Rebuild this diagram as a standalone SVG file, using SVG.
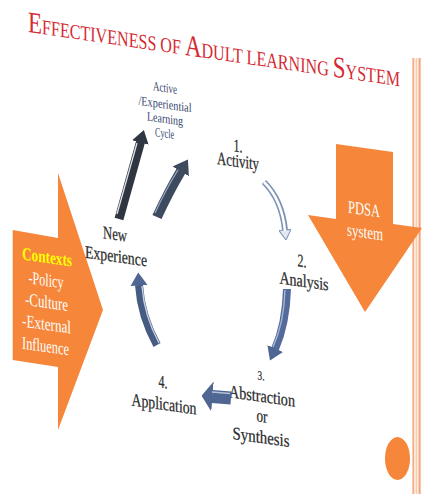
<svg xmlns="http://www.w3.org/2000/svg" width="422" height="494" viewBox="0 0 422 494">
<style>
.t{font-family:"Liberation Serif","DejaVu Serif",serif;text-anchor:middle;fill:#2b2b2b;font-size:18px;stroke:#2b2b2b;stroke-width:0.25}
.cy{font-size:13px;fill:#34466e;stroke:none}
.ti{font-family:"Liberation Serif","DejaVu Serif",serif;fill:#d42a33;font-size:21px}
.ti .b{font-size:30px}
.w{fill:#ffffff;stroke:none}
.y{fill:#ffff00;stroke:none;font-weight:bold}
.or{fill:#f5863a}
.sh{fill:none;stroke-linecap:butt}
.hl{fill:none;stroke-linecap:butt}
</style>
<defs>
<marker id="hDark" viewBox="0 0 13 17" refX="0.5" refY="8.5" markerWidth="13" markerHeight="17" markerUnits="userSpaceOnUse" orient="auto"><path d="M0,0 L13,8.5 L0,17 z" fill="#2f3541"/></marker>
<marker id="hSteel" viewBox="0 0 14 19" refX="0.5" refY="9.5" markerWidth="14" markerHeight="19" markerUnits="userSpaceOnUse" orient="auto"><path d="M0,0 L14,9.5 L0,19 z" fill="#3e4a5e"/></marker>
<marker id="hBlue" viewBox="0 0 13 17" refX="0.5" refY="8.5" markerWidth="13" markerHeight="17" markerUnits="userSpaceOnUse" orient="auto"><path d="M0,0 L13,8.5 L0,17 z" fill="#4f6592"/></marker>
<marker id="hLight" viewBox="0 0 11 13" refX="0.5" refY="6.5" markerWidth="11" markerHeight="13" markerUnits="userSpaceOnUse" orient="auto"><path d="M0.5,0.5 L10.5,6.5 L0.5,12.5 z" fill="#e3e9f2" stroke="#7f93b6" stroke-width="1"/></marker>
<marker id="hWide" viewBox="0 0 11 30" refX="0.5" refY="15" markerWidth="11" markerHeight="30" markerUnits="userSpaceOnUse" orient="auto"><path d="M0,0 L11,15 L0,30 z" fill="#4f6592"/></marker>
</defs>
<rect width="422" height="494" fill="#ffffff"/>

<g id="decoration">
<rect x="412" y="58" width="9" height="436" fill="#fdeee4"/>
<rect x="412.5" y="58" width="1.6" height="436" fill="#f4ac84"/>
<rect x="415.8" y="58" width="1" height="436" fill="#f7c2a4"/>
<rect x="418.6" y="58" width="2" height="436" fill="#f4a77c"/>
<ellipse cx="397.5" cy="458.5" rx="12.5" ry="21.5" class="or"/>
</g>

<g id="title">
<text class="ti" transform="translate(28,32) skewY(8.3)" textLength="372" lengthAdjust="spacingAndGlyphs"><tspan class="b">E</tspan>FFECTIVENESS OF <tspan class="b">A</tspan>DULT LEARNING <tspan class="b">S</tspan>YSTEM</text>
</g>

<g id="node-contexts">
<polygon class="or" points="12.7,230 58,238 58,173 103,310 58,430 58,367 12.7,360"/>
<text class="t y" transform="translate(47,263) skewY(8)" textLength="50" lengthAdjust="spacingAndGlyphs">Contexts</text>
<text class="t w" transform="translate(46,286) skewY(8)" textLength="35" lengthAdjust="spacingAndGlyphs">-Policy</text>
<text class="t w" transform="translate(46.5,308) skewY(8)" textLength="43" lengthAdjust="spacingAndGlyphs">-Culture</text>
<text class="t w" transform="translate(46.5,330) skewY(8)" textLength="49" lengthAdjust="spacingAndGlyphs">-External</text>
<text class="t w" transform="translate(45.5,352) skewY(8)" textLength="47" lengthAdjust="spacingAndGlyphs">Influence</text>
</g>

<g id="node-pdsa">
<polygon class="or" points="336,144 393,152 393,224 422,228 365,312 308,215 336,219"/>
<text class="t w" transform="translate(364,215) skewY(8)" textLength="32" lengthAdjust="spacingAndGlyphs">PDSA</text>
<text class="t w" transform="translate(365,238) skewY(8)" textLength="36" lengthAdjust="spacingAndGlyphs">system</text>
</g>

<g id="node-cycle-title">
<text class="t cy" transform="translate(165,92) skewY(8)" textLength="24" lengthAdjust="spacingAndGlyphs">Active</text>
<text class="t cy" transform="translate(165,108.5) skewY(8)" textLength="53" lengthAdjust="spacingAndGlyphs">/Experiential</text>
<text class="t cy" transform="translate(165,123) skewY(8)" textLength="36" lengthAdjust="spacingAndGlyphs">Learning</text>
<text class="t cy" transform="translate(164.5,137.5) skewY(8)" textLength="19" lengthAdjust="spacingAndGlyphs">Cycle</text>
</g>

<g id="node-activity">
<text class="t" transform="translate(238,152) skewY(8)" textLength="9" lengthAdjust="spacingAndGlyphs">1.</text>
<text class="t" transform="translate(238,167) skewY(8)" textLength="42" lengthAdjust="spacingAndGlyphs">Activity</text>
</g>

<g id="node-analysis">
<text class="t" transform="translate(302,267) skewY(8)" textLength="9" lengthAdjust="spacingAndGlyphs">2.</text>
<text class="t" transform="translate(304,287) skewY(8)" textLength="49" lengthAdjust="spacingAndGlyphs">Analysis</text>
</g>

<g id="node-abstraction">
<text class="t" style="font-size:13px" transform="translate(261,380) skewY(8)" textLength="7" lengthAdjust="spacingAndGlyphs">3.</text>
<text class="t" transform="translate(262,402) skewY(8)" textLength="66" lengthAdjust="spacingAndGlyphs">Abstraction</text>
<text class="t" transform="translate(262,422) skewY(8)" textLength="11" lengthAdjust="spacingAndGlyphs">or</text>
<text class="t" transform="translate(261,443) skewY(8)" textLength="57" lengthAdjust="spacingAndGlyphs">Synthesis</text>
</g>

<g id="node-application">
<text class="t" transform="translate(163,388) skewY(8)" textLength="9" lengthAdjust="spacingAndGlyphs">4.</text>
<text class="t" transform="translate(164,410) skewY(8)" textLength="65" lengthAdjust="spacingAndGlyphs">Application</text>
</g>

<g id="node-new-experience">
<text class="t" transform="translate(115,240) skewY(8)" textLength="24" lengthAdjust="spacingAndGlyphs">New</text>
<text class="t" transform="translate(116,262) skewY(8)" textLength="62" lengthAdjust="spacingAndGlyphs">Experience</text>
</g>

<g id="connectors">
<path class="sh" d="M119,219 L140.5,142" stroke="#2f3541" stroke-width="9" marker-end="url(#hDark)"/>
<path class="hl" d="M117,214 L137,143" stroke="#dfe3ea" stroke-width="1.3"/>

<path class="sh" d="M157,217 Q169,191 181,171" stroke="#3e4a5e" stroke-width="10" marker-end="url(#hSteel)"/>
<path class="hl" d="M155,213 Q166,189 178,170" stroke="#93a3bd" stroke-width="1.4"/>

<path class="sh" d="M264,182 Q282,200 285,230" stroke="#7f93b6" stroke-width="6" marker-end="url(#hLight)"/>
<path class="hl" d="M264,182 Q282,200 285,231" stroke="#ffffff" stroke-width="2.5"/>

<path class="sh" d="M287,289 Q286,324 275,349" stroke="#536a9a" stroke-width="8" marker-end="url(#hBlue)"/>
<path class="hl" d="M285,290 Q284,323 273,347" stroke="#a6b5d1" stroke-width="1.4"/>

<path class="sh" d="M231,398 L212,396.5" stroke="#4f6592" stroke-width="13" marker-end="url(#hWide)"/>
<path class="hl" d="M230,393.5 L212,392" stroke="#b3c0d8" stroke-width="1.5"/>

<path class="sh" d="M157,345 Q141,316 139,285" stroke="#465b82" stroke-width="8" marker-end="url(#hBlue)"/>
<path class="hl" d="M159,343 Q144,315 142,286" stroke="#c5cfe0" stroke-width="1.4"/>
</g>
</svg>
